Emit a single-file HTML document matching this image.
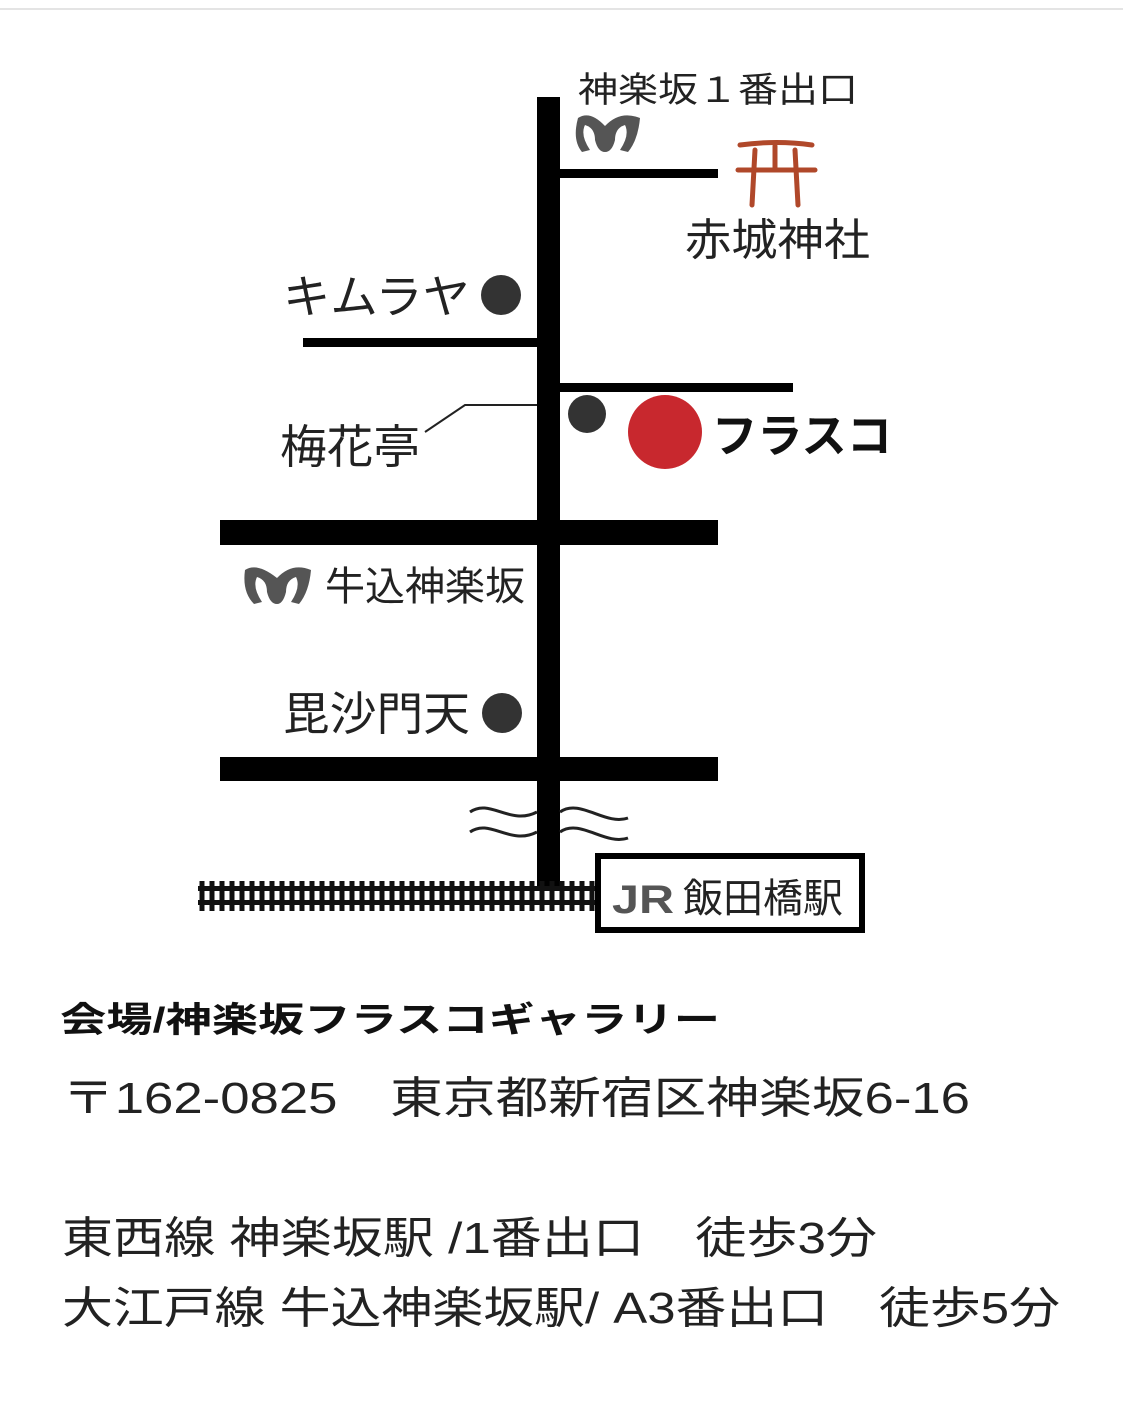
<!DOCTYPE html>
<html><head><meta charset="utf-8"><style>
html,body{margin:0;padding:0;background:#fff;}
svg{display:block}
text{font-family:"Liberation Sans","Noto Sans CJK JP",sans-serif;fill:#222}
</style></head><body>
<svg width="1123" height="1404" viewBox="0 0 1123 1404" xmlns="http://www.w3.org/2000/svg">
<line x1="0" y1="9" x2="1123" y2="9" stroke="#e4e4e4" stroke-width="2"/>
<rect x="537" y="97" width="23" height="790" fill="#000"/>
<rect x="560" y="169" width="158" height="9" fill="#000"/>
<rect x="303" y="338" width="234" height="9" fill="#000"/>
<rect x="560" y="383" width="233" height="9" fill="#000"/>
<rect x="220" y="520" width="498" height="25" fill="#000"/>
<rect x="220" y="757" width="498" height="24" fill="#000"/>
<path d="M470 812 C490 798,510 826,537 812 M560 812 C580 798,605 826,628 818" stroke="#222" stroke-width="3" fill="none"/>
<path d="M470 832 C490 818,510 846,537 832 M560 832 C580 818,605 846,628 838" stroke="#222" stroke-width="3" fill="none"/>
<rect x="198" y="886" width="397" height="5" fill="#111"/>
<rect x="198" y="900" width="397" height="5" fill="#111"/>
<path d="M202 881V911M212 881V911M222 881V911M232 881V911M242 881V911M252 881V911M262 881V911M272 881V911M282 881V911M292 881V911M302 881V911M312 881V911M322 881V911M332 881V911M342 881V911M352 881V911M362 881V911M372 881V911M382 881V911M392 881V911M402 881V911M412 881V911M422 881V911M432 881V911M442 881V911M452 881V911M462 881V911M472 881V911M482 881V911M492 881V911M502 881V911M512 881V911M522 881V911M532 881V911M542 881V911M552 881V911M562 881V911M572 881V911M582 881V911M592 881V911" stroke="#111" stroke-width="5"/>
<rect x="598" y="856" width="264" height="74" fill="#fff" stroke="#000" stroke-width="6"/>
<text x="612" y="913" font-size="40" font-weight="bold" style="fill:#555" textLength="62" lengthAdjust="spacingAndGlyphs">JR</text>
<text x="683" y="912" font-size="40">飯田橋駅</text>
<circle cx="501" cy="295" r="20" fill="#333"/>
<circle cx="587" cy="414" r="19" fill="#333"/>
<circle cx="502" cy="713" r="20" fill="#333"/>
<circle cx="665" cy="432" r="37" fill="#c8282e"/>
<polyline points="425,432 465,405 537,405" fill="none" stroke="#222" stroke-width="2"/>
<g fill="#555">
<path d="M578 118 Q590 110 605 126 Q620 110 640 118 Q638 140 628 152 L620 150 Q630 135 625 125 Q615 128 615 140 Q612 152 605 152 Q598 152 595 140 Q595 128 585 125 Q580 135 590 150 L582 152 Q572 140 578 118Z"/>
<path d="M245 570 Q257 562 277 578 Q292 562 311 570 Q309 592 299 604 L291 602 Q301 587 296 577 Q286 580 286 592 Q283 604 277 604 Q270 604 267 592 Q267 580 257 577 Q252 587 262 602 L254 604 Q242 592 245 570Z"/>
</g>
<g stroke="#b0482a" stroke-width="5" fill="none" stroke-linecap="round">
<path d="M740 145 Q777 140 812 145"/>
<line x1="738" y1="170" x2="815" y2="170"/>
<line x1="755" y1="150" x2="752" y2="205"/>
<line x1="795" y1="150" x2="798" y2="205"/>
<line x1="775" y1="146" x2="775" y2="170"/>
</g>
<text x="578" y="102" font-size="35" textLength="280" lengthAdjust="spacingAndGlyphs">神楽坂１番出口</text>
<text x="685" y="255" font-size="44" textLength="185" lengthAdjust="spacingAndGlyphs">赤城神社</text>
<text x="283" y="313" font-size="46" textLength="187" lengthAdjust="spacingAndGlyphs">キムラヤ</text>
<text x="280" y="463" font-size="46" textLength="140" lengthAdjust="spacingAndGlyphs">梅花亭</text>
<text x="712" y="452" font-size="46" font-weight="bold" textLength="180" lengthAdjust="spacingAndGlyphs" style="fill:#111">フラスコ</text>
<text x="325" y="600" font-size="40" textLength="200" lengthAdjust="spacingAndGlyphs">牛込神楽坂</text>
<text x="283" y="730" font-size="46" textLength="187" lengthAdjust="spacingAndGlyphs">毘沙門天</text>
<text x="60" y="1032" font-size="35" font-weight="bold" textLength="660" lengthAdjust="spacingAndGlyphs" style="fill:#111">会場/神楽坂フラスコギャラリー</text>
<text x="62" y="1113" font-size="44" textLength="908" lengthAdjust="spacingAndGlyphs">〒162-0825　東京都新宿区神楽坂6-16</text>
<text x="62" y="1253" font-size="44" textLength="815" lengthAdjust="spacingAndGlyphs">東西線 神楽坂駅 /1番出口　徒歩3分</text>
<text x="62" y="1323" font-size="44" textLength="998" lengthAdjust="spacingAndGlyphs">大江戸線 牛込神楽坂駅/ A3番出口　徒歩5分</text>
</svg>
</body></html>
